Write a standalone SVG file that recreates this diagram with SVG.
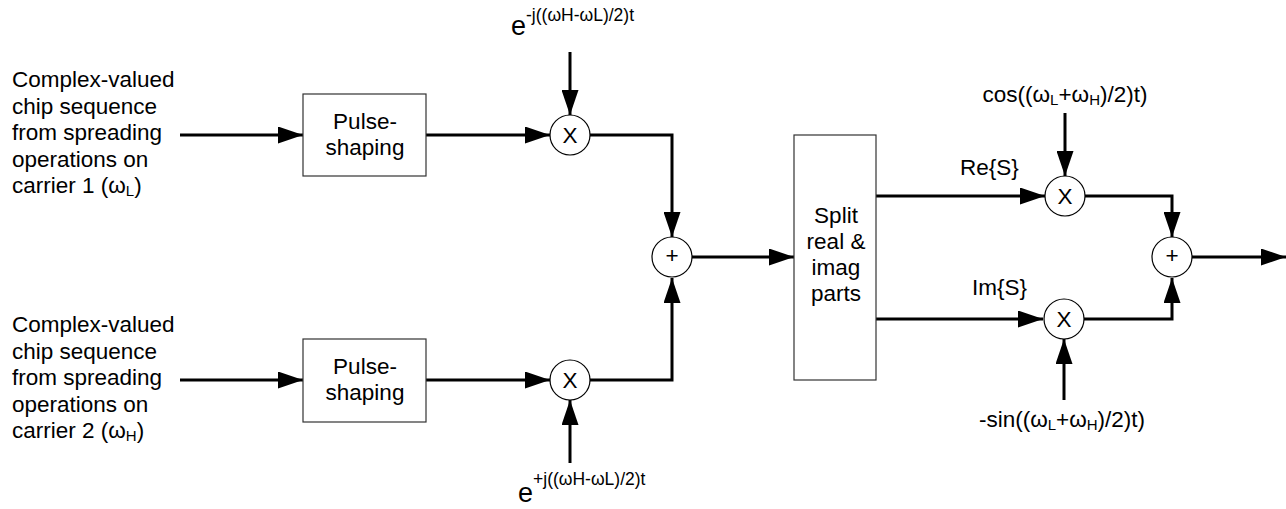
<svg xmlns="http://www.w3.org/2000/svg" width="1286" height="509" viewBox="0 0 1286 509">
<style>
text{font-family:"Liberation Sans",Arial,sans-serif;fill:#000;font-size:22.5px}
.box{fill:#fff;stroke:#333;stroke-width:1.2}
.op{fill:#fff;stroke:#000;stroke-width:1.2}
.c{text-anchor:middle}
.w{fill:none;stroke:#000;stroke-width:3}
</style>
<defs>
<marker id="ah" markerUnits="userSpaceOnUse" markerWidth="25" markerHeight="17" refX="25" refY="8.5" orient="auto">
<path d="M0,0 L25,8.5 L0,17 z" fill="#000"/>
</marker>
</defs>
<g id="connectors">
<path class="w" d="M180,135 H303" marker-end="url(#ah)"/>
<path class="w" d="M426,135 H550" marker-end="url(#ah)"/>
<path class="w" d="M570,52 V115" marker-end="url(#ah)"/>
<path class="w" d="M590,135 H672 V237" marker-end="url(#ah)"/>
<path class="w" d="M180,380 H303" marker-end="url(#ah)"/>
<path class="w" d="M426,380 H550" marker-end="url(#ah)"/>
<path class="w" d="M570,463 V400" marker-end="url(#ah)"/>
<path class="w" d="M590,380 H672 V278" marker-end="url(#ah)"/>
<path class="w" d="M692,257 H794" marker-end="url(#ah)"/>
<path class="w" d="M876,196 H1045" marker-end="url(#ah)"/>
<path class="w" d="M1065,113 V176" marker-end="url(#ah)"/>
<path class="w" d="M1085,196 H1172 V237" marker-end="url(#ah)"/>
<path class="w" d="M876,319 H1043" marker-end="url(#ah)"/>
<path class="w" d="M1064,400 V339" marker-end="url(#ah)"/>
<path class="w" d="M1084,319 H1172 V278" marker-end="url(#ah)"/>
<path class="w" d="M1192,257 H1286" marker-end="url(#ah)"/>
</g>
<g id="input1">
<text x="12" y="87">Complex-valued</text>
<text x="12" y="113.5">chip sequence</text>
<text x="12" y="140">from spreading</text>
<text x="12" y="166.5">operations on</text>
<text x="12" y="193">carrier 1 (ω<tspan font-size="15" dy="3">L</tspan><tspan dy="-3">)</tspan></text>
</g>
<g id="input2">
<text x="12" y="332">Complex-valued</text>
<text x="12" y="358.5">chip sequence</text>
<text x="12" y="385">from spreading</text>
<text x="12" y="411.5">operations on</text>
<text x="12" y="438">carrier 2 (ω<tspan font-size="15" dy="3">H</tspan><tspan dy="-3">)</tspan></text>
</g>
<g id="pulse1">
<rect class="box" x="303" y="94" width="123" height="82"/>
<text class="c" x="365" y="129">Pulse-</text>
<text class="c" x="365" y="155">shaping</text>
</g>
<g id="pulse2">
<rect class="box" x="303" y="339" width="123" height="83"/>
<text class="c" x="365" y="374">Pulse-</text>
<text class="c" x="365" y="400">shaping</text>
</g>
<g id="mult1">
<circle class="op" cx="570" cy="135" r="20"/>
<text class="c" x="570" y="143" font-size="23">X</text>
</g>
<g id="mult2">
<circle class="op" cx="570" cy="380" r="20"/>
<text class="c" x="570" y="388" font-size="23">X</text>
</g>
<g id="label-top">
<text x="511" y="35"><tspan font-size="27">e</tspan><tspan font-size="17.5" dy="-14">-j((ωH-ωL)/2)t</tspan></text>
</g>
<g id="label-bottom">
<text x="518" y="502"><tspan font-size="27">e</tspan><tspan font-size="17.5" dy="-17">+j((ωH-ωL)/2)t</tspan></text>
</g>
<g id="sum1">
<circle class="op" cx="672" cy="257" r="20"/>
<text class="c" x="672" y="263" font-size="16">+</text>
</g>
<g id="split">
<rect class="box" x="794" y="135" width="82" height="245"/>
<text class="c" x="836" y="223">Split</text>
<text class="c" x="836" y="249">real &amp;</text>
<text class="c" x="836" y="275">imag</text>
<text class="c" x="836" y="301">parts</text>
</g>
<g id="re-label"><text x="960" y="175">Re{S}</text></g>
<g id="im-label"><text x="972" y="295">Im{S}</text></g>
<g id="mult3">
<circle class="op" cx="1065" cy="196" r="20"/>
<text class="c" x="1065" y="204" font-size="23">X</text>
</g>
<g id="mult4">
<circle class="op" cx="1064" cy="319" r="20"/>
<text class="c" x="1064" y="327" font-size="23">X</text>
</g>
<g id="cos-label">
<text class="c" x="1065" y="102">cos((ω<tspan font-size="15" dy="3">L</tspan><tspan dy="-3">+ω</tspan><tspan font-size="15" dy="3">H</tspan><tspan dy="-3">)/2)t)</tspan></text>
</g>
<g id="sin-label">
<text class="c" x="1062" y="427">-sin((ω<tspan font-size="15" dy="3">L</tspan><tspan dy="-3">+ω</tspan><tspan font-size="15" dy="3">H</tspan><tspan dy="-3">)/2)t)</tspan></text>
</g>
<g id="sum2">
<circle class="op" cx="1172" cy="257" r="20"/>
<text class="c" x="1172" y="263" font-size="16">+</text>
</g>
</svg>
